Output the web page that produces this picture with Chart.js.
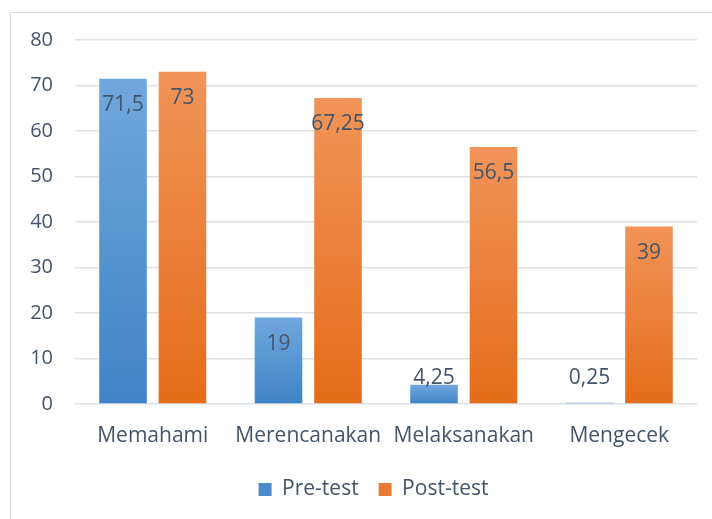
<!DOCTYPE html>
<html>
<head>
<meta charset="utf-8">
<script src="https://cdn.jsdelivr.net/npm/chart.js@4.4.1/dist/chart.umd.min.js"></script>
<style>
  html, body { margin: 0; padding: 0; background: #fff; }
  #wrap { position: relative; width: 712px; height: 519px; overflow: hidden; }
  #frame { position: absolute; left: 10px; top: 12px; width: 740px; height: 540px; border: 1px solid #d9d9d9; }
  #chart { position: absolute; left: 0; top: 0; }
</style>
</head>
<body>
<div id="wrap">
  <div id="frame"></div>
  <canvas id="chart" width="712" height="519"></canvas>
</div>
<script>
// data
const categories = ['Memahami', 'Merencanakan', 'Melaksanakan', 'Mengecek'];
const preTest = [71.5, 19, 4.25, 0.25];
const postTest = [73, 67.25, 56.5, 39];

const textColor = '#44546a';
const fontFamily = '"Open Sans", "Noto Sans", sans-serif';

// gradient per bar, light on top, dark at the base
function barGradient(top, bottom) {
    return function (c) {
        const chart = c.chart;
        const y = chart.scales.y;
        if (!y || c.raw === undefined) return bottom;
        const y0 = y.getPixelForValue(c.raw);
        const y1 = y.getPixelForValue(0);
        if (!isFinite(y0) || !isFinite(y1) || y0 === y1) return bottom;
        const g = chart.ctx.createLinearGradient(0, y0, 0, y1);
        g.addColorStop(0, top);
        g.addColorStop(1, bottom);
        return g;
    };
}

// value labels
const valueLabels = {
    id: 'valueLabels',
    afterDatasetsDraw(chart) {
        const ctx = chart.ctx;
        ctx.save();
        ctx.font = '21px ' + fontFamily;
        ctx.fillStyle = textColor;
        ctx.textAlign = 'center';
        ctx.textBaseline = 'middle';
        chart.data.datasets.forEach((ds, i) => {
            chart.getDatasetMeta(i).data.forEach((bar, j) => {
                const y = Math.min(bar.y + 26, bar.base - 25);
                ctx.fillText(String(ds.data[j]).replace('.', ','), bar.x, y);
            });
        });
        ctx.restore();
    }
};

// legend sits a bit right of the canvas centre, as in the original
const legendShift = {
    id: 'legendShift',
    afterLayout(chart) {
        if (chart.legend) {
            chart.legend.left += 50;
        }
    }
};

new Chart(document.getElementById('chart'), {
    type: 'bar',
    data: {
        labels: categories,
        datasets: [
            {
                label: 'Pre-test',
                data: preTest,
                backgroundColor: barGradient('#70a7dd', '#3f83c6')
            },
            {
                label: 'Post-test',
                data: postTest,
                backgroundColor: barGradient('#f19459', '#e46c1a')
            }
        ]
    },
    options: {
        responsive: false,
        animation: false,
        layout: { padding: { top: 40, right: 15, bottom: 9, left: 0 } },
        datasets: {
            bar: { categoryPercentage: 0.765, barPercentage: 0.8 }
        },
        scales: {
            x: {
                afterFit(s) { s.height = 55; },
                grid: { display: false },
                border: { display: false },
                ticks: { color: textColor, font: { family: fontFamily, size: 21 }, padding: 11 }
            },
            y: {
                min: 0,
                max: 80,
                afterFit(s) { s.width = 75; },
                grid: { color: '#dde1e6', lineWidth: 1.5, drawTicks: false },
                border: { display: false },
                ticks: { stepSize: 10, color: textColor, font: { family: fontFamily, size: 20 }, padding: 22 }
            }
        },
        plugins: {
            legend: {
                position: 'bottom',
                labels: {
                    color: textColor,
                    font: { family: fontFamily, size: 21 },
                    boxWidth: 13,
                    boxHeight: 13,
                    padding: 20,
                    generateLabels(chart) {
                        const cols = ['#4a8bcb', '#e97a33'];
                        return chart.data.datasets.map((ds, i) => ({
                            text: ds.label,
                            fillStyle: cols[i],
                            strokeStyle: cols[i],
                            lineWidth: 0,
                            fontColor: textColor,
                            datasetIndex: i
                        }));
                    }
                }
            },
            tooltip: { enabled: false }
        }
    },
    plugins: [valueLabels, legendShift]
});
</script>
</body>
</html>
